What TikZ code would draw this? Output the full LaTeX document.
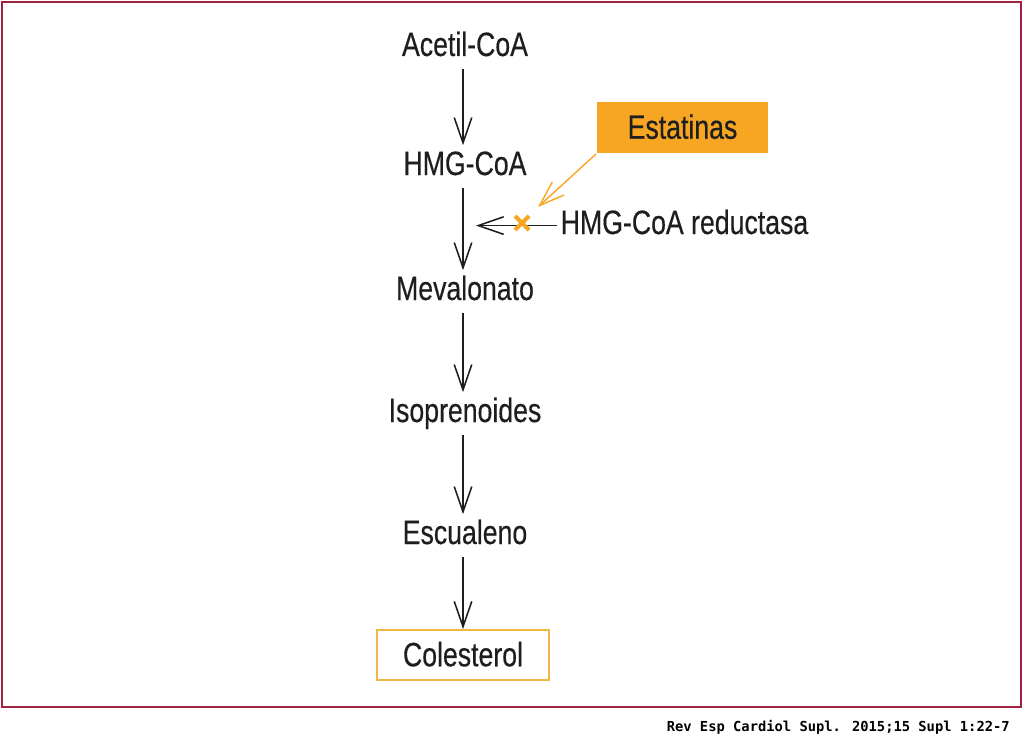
\documentclass[tikz,border=0pt]{standalone}
\usepackage{fontspec}
\setmainfont{Liberation Sans}[FakeStretch=0.79,FakeBold=0.35]
\newfontfamily\piefont{DejaVu Sans Mono}
\usetikzlibrary{arrows.meta,positioning}
\definecolor{rborde}{RGB}{160,35,65}
\definecolor{rnaranja}{RGB}{246,166,35}
\definecolor{rambar}{RGB}{240,182,70}
\definecolor{rtexto}{RGB}{30,30,30}

\begin{document}
\begin{tikzpicture}[x=0.025cm,y=-0.025cm,
  paso/.style={font=\fontsize{24}{28}\selectfont,text=rtexto,text height=17pt,text depth=5pt,inner xsep=2.5pt,inner ysep=4pt},
  caja/.style={paso,text height=20pt,text depth=4pt,minimum width=4.3cm,minimum height=1.25cm,line width=1.4pt},
  flecha/.style={-{Straight Barb[length=18pt,width=12.5pt]},line width=1.1pt,rtexto}]
  \useasboundingbox (0,0) rectangle (1024,749);
  \draw[rborde,line width=1.5pt] (2,2) rectangle (1021,707);
  % pathway
  \node[paso,anchor=base] (acetil) at (465,56) {Acetil-CoA};
  \node[paso,anchor=base] (hmg) at (465,175) {HMG-CoA};
  \node[paso,anchor=base] (meval) at (465,300) {Mevalonato};
  \node[paso,anchor=base] (isopren) at (465,422) {Isoprenoides};
  \node[paso,anchor=base] (escual) at (465,544) {Escualeno};
  \node[caja,draw=rambar,fill=white] (colest) at (463,655) {Colesterol};
  \draw[flecha] (acetil.south -| 463,0) -- (hmg.north -| 463,0);
  \draw[flecha] (hmg.south -| 463,0) -- (meval.north -| 463,0);
  \draw[flecha] (meval.south -| 463,0) -- (isopren.north -| 463,0);
  \draw[flecha] (isopren.south -| 463,0) -- (escual.north -| 463,0);
  \draw[flecha] (escual.south -| 463,0) -- (colest.north);
  % enzyme and inhibition
  \node[paso,anchor=base west] (reduct) at (557,234) {HMG-CoA reductasa};
  \coordinate (bloqueo) at (476,222);
  \draw[flecha] (reduct.west) -- (reduct.west -| bloqueo);
  \draw[rnaranja,line width=3pt] (515,216) -- (529,230) (515,230) -- (529,216);
  \node[caja,fill=rnaranja,minimum width=4.275cm,minimum height=1.275cm] (estat) at (682.5,127.5) {Estatinas};
  \coordinate (diana) at (538,207);
  \draw[flecha,rnaranja,line width=1pt] (estat.south west) -- (diana);
  % source
  \node[anchor=base east,inner sep=0pt,font=\piefont\bfseries\fontsize{9.8}{11}\selectfont] (fuente) at (1010,731) {Rev Esp Cardiol Supl. 2015;15 Supl 1:22-7};
\end{tikzpicture}
\end{document}
